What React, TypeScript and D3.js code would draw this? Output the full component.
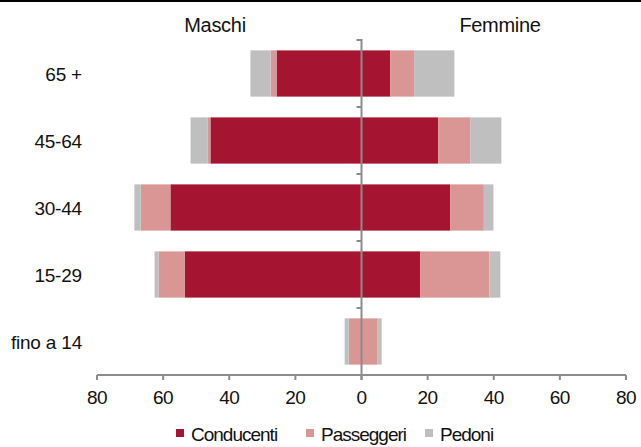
import React from "react";
import * as d3 from "d3";

const categories = ["65 +", "45-64", "30-44", "15-29", "fino a 14"];
const series = ["Conducenti", "Passeggeri", "Pedoni"];
const maschiConducenti = [25.7, 45.7, 57.8, 53.5, 0];
const maschiPasseggeri = [1.8, 0.9, 9.0, 7.9, 3.9];
const maschiPedoni = [6.1, 5.1, 1.9, 1.2, 1.2];
const femmineConducenti = [8.7, 23.2, 26.8, 17.8, 0];
const femminePasseggeri = [7.2, 9.7, 10.2, 20.9, 4.9];
const femminePedoni = [12.2, 9.4, 2.9, 3.3, 1.2];
const xTicks = [-80, -60, -40, -20, 0, 20, 40, 60, 80];
const colors = ["#A51431", "#D99694", "#BFBFBF"];

const W = 641;
const H = 447;

export default function App() {
  const x = d3.scaleLinear().domain([-80, 80]).range([97, 626]);
  const y = d3.scaleBand().domain(categories).range([40, 375]).paddingInner(0.31).paddingOuter(0.155);
  const yb = d3.scaleBand().domain(categories).range([40, 375]);

  const maschi = [maschiConducenti, maschiPasseggeri, maschiPedoni];
  const femmine = [femmineConducenti, femminePasseggeri, femminePedoni];

  const bars: React.ReactNode[] = [];
  categories.forEach((c, i) => {
    let accL = 0;
    let accR = 0;
    series.forEach((s, j) => {
      const vl = maschi[j][i];
      if (vl > 0) {
        bars.push(
          <rect key={`l-${c}-${s}`} x={x(-(accL + vl))} y={y(c)} width={x(-accL) - x(-(accL + vl))} height={y.bandwidth()} fill={colors[j]} />
        );
      }
      accL += vl;
      const vr = femmine[j][i];
      if (vr > 0) {
        bars.push(
          <rect key={`r-${c}-${s}`} x={x(accR)} y={y(c)} width={x(accR + vr) - x(accR)} height={y.bandwidth()} fill={colors[j]} />
        );
      }
      accR += vr;
    });
  });

  const font = "'Liberation Sans', Arial, sans-serif";
  const axisY = 375;
  const x0 = x(0);
  const legendX = [176, 306, 425];

  return (
    <svg width={W} height={H} style={{ position: "absolute", left: 0, top: 0, background: "#fff" }} fontFamily={font}>
      <rect x={0} y={0} width={W} height={H} fill="#fff" />
      <rect x={0} y={0} width={W} height={2} fill="#000" />
      <text x={215} y={32} fontSize={20} textAnchor="middle" fill="#111" letterSpacing={-0.3}>Maschi</text>
      <text x={500} y={32} fontSize={20} textAnchor="middle" fill="#111" letterSpacing={-0.3}>Femmine</text>
      {bars}
      {/* x axis */}
      <line x1={x(-80)} x2={x(80)} y1={axisY} y2={axisY} stroke="#8c8c8c" strokeWidth={2} />
      {xTicks.map((t) => (
        <g key={t}>
          <line x1={x(t)} x2={x(t)} y1={axisY} y2={axisY + 5} stroke="#8c8c8c" strokeWidth={2} />
          <text x={x(t)} y={404} fontSize={19} textAnchor="middle" fill="#111" letterSpacing={-0.5}>{Math.abs(t)}</text>
        </g>
      ))}
      {/* center category axis */}
      <line x1={x0} x2={x0} y1={39} y2={axisY + 5} stroke="#8c8c8c" strokeWidth={2} />
      {categories.map((c) => (
        <line key={c} x1={x0 - 5} x2={x0} y1={yb(c)!} y2={yb(c)!} stroke="#8c8c8c" strokeWidth={2} />
      ))}
      {categories.map((c) => (
        <text key={c} x={82} y={y(c)! + y.bandwidth() / 2 + 7} fontSize={19} textAnchor="end" fill="#111" letterSpacing={-0.2}>{c}</text>
      ))}
      {/* legend */}
      {series.map((s, j) => (
        <g key={s}>
          <rect x={legendX[j]} y={429} width={8} height={8} fill={colors[j]} />
          <text x={legendX[j] + 15} y={441} fontSize={19} fill="#111" letterSpacing={-1}>{s}</text>
        </g>
      ))}
    </svg>
  );
}
